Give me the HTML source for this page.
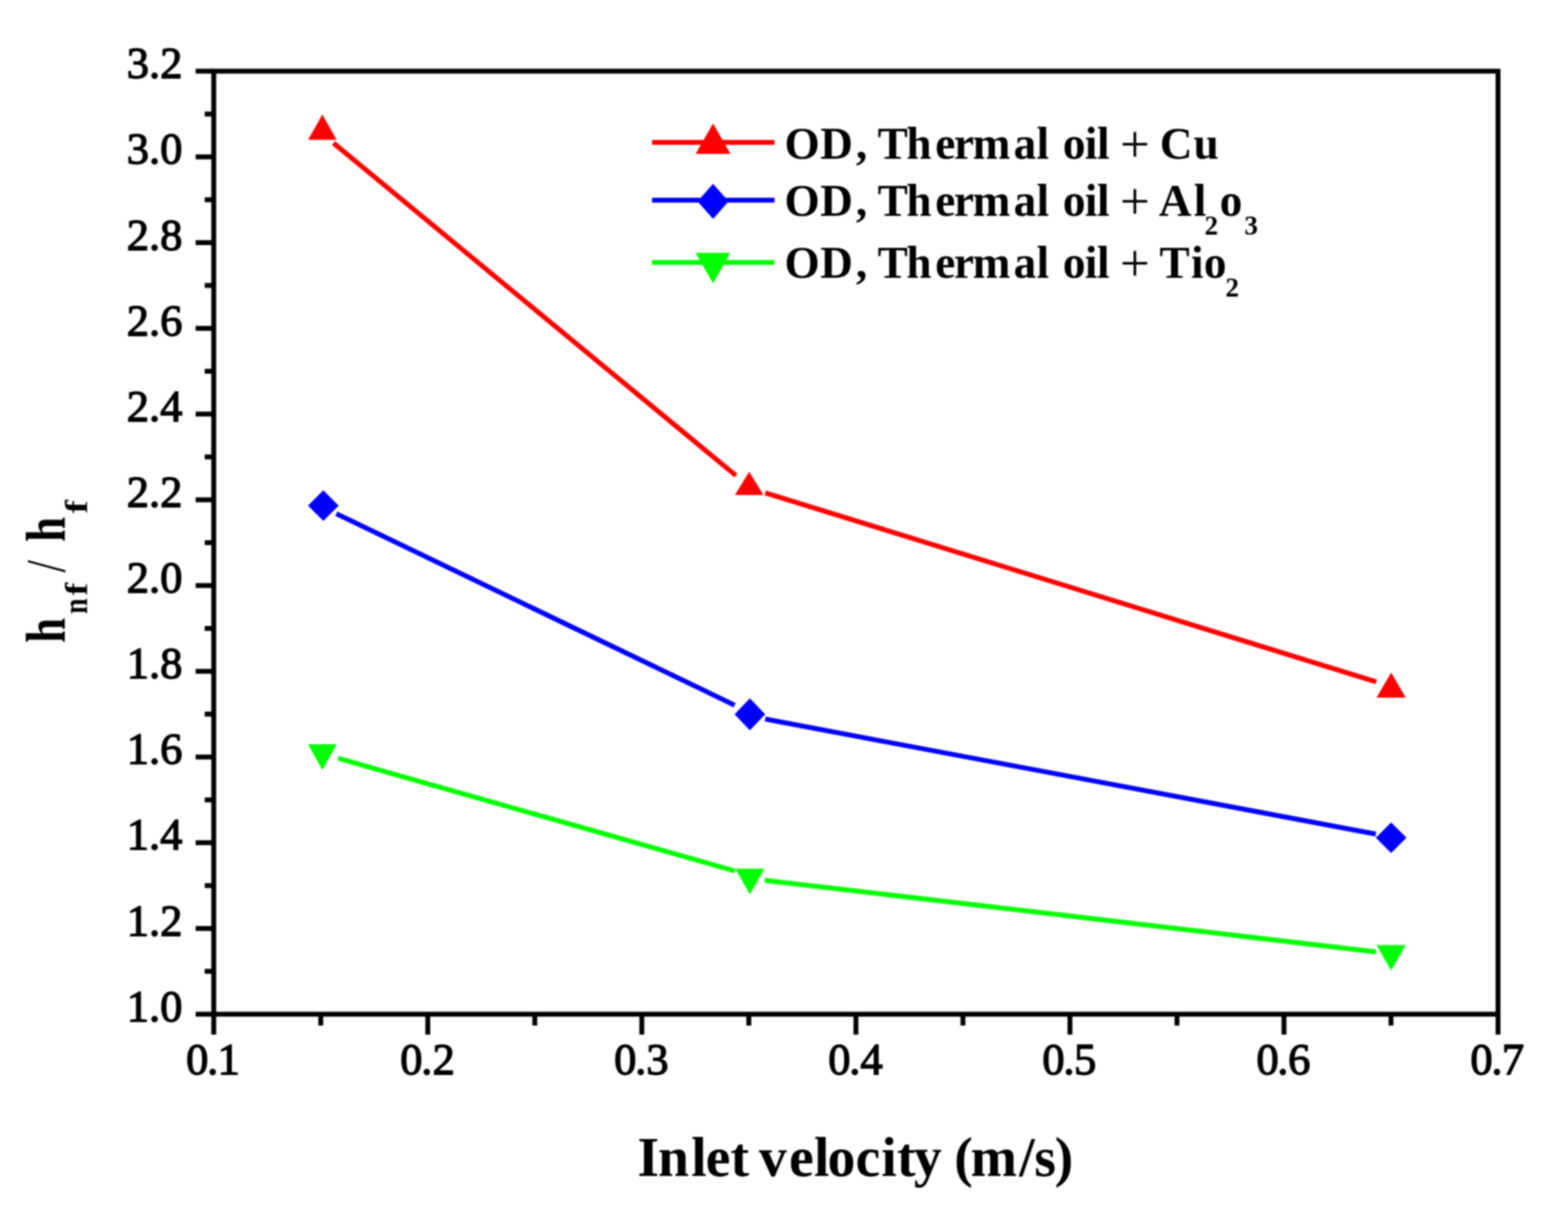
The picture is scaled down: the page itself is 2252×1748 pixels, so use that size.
<!DOCTYPE html>
<html><head><meta charset="utf-8"><style>
html,body{margin:0;padding:0;background:#fff;}
svg{display:block;filter:blur(0.9px);}
.tl{font-family:"Liberation Serif",serif;font-size:64px;fill:#000;stroke:#000;stroke-width:1.8px;}
.lg{font-family:"Liberation Serif",serif;font-weight:bold;font-size:65px;fill:#000;}
.sb{font-size:39px;}
.ti{font-family:"Liberation Serif",serif;font-weight:bold;font-size:80px;fill:#000;}
.ts{font-size:50px;}
.pl{font-weight:normal;font-size:76px;}
</style></head><body>
<svg width="2252" height="1748" viewBox="0 0 2252 1748">
<rect width="2252" height="1748" fill="#fff"/>
<rect x="307" y="102.2" width="1844.5" height="1354.5" fill="none" stroke="#000" stroke-width="7"/>
<line x1="281" y1="1456.7" x2="307" y2="1456.7" stroke="#000" stroke-width="7"/>
<line x1="294" y1="1395.1" x2="307" y2="1395.1" stroke="#000" stroke-width="7"/>
<line x1="281" y1="1333.6" x2="307" y2="1333.6" stroke="#000" stroke-width="7"/>
<line x1="294" y1="1272.0" x2="307" y2="1272.0" stroke="#000" stroke-width="7"/>
<line x1="281" y1="1210.4" x2="307" y2="1210.4" stroke="#000" stroke-width="7"/>
<line x1="294" y1="1148.9" x2="307" y2="1148.9" stroke="#000" stroke-width="7"/>
<line x1="281" y1="1087.3" x2="307" y2="1087.3" stroke="#000" stroke-width="7"/>
<line x1="294" y1="1025.7" x2="307" y2="1025.7" stroke="#000" stroke-width="7"/>
<line x1="281" y1="964.2" x2="307" y2="964.2" stroke="#000" stroke-width="7"/>
<line x1="294" y1="902.6" x2="307" y2="902.6" stroke="#000" stroke-width="7"/>
<line x1="281" y1="841.0" x2="307" y2="841.0" stroke="#000" stroke-width="7"/>
<line x1="294" y1="779.5" x2="307" y2="779.5" stroke="#000" stroke-width="7"/>
<line x1="281" y1="717.9" x2="307" y2="717.9" stroke="#000" stroke-width="7"/>
<line x1="294" y1="656.3" x2="307" y2="656.3" stroke="#000" stroke-width="7"/>
<line x1="281" y1="594.7" x2="307" y2="594.7" stroke="#000" stroke-width="7"/>
<line x1="294" y1="533.2" x2="307" y2="533.2" stroke="#000" stroke-width="7"/>
<line x1="281" y1="471.6" x2="307" y2="471.6" stroke="#000" stroke-width="7"/>
<line x1="294" y1="410.0" x2="307" y2="410.0" stroke="#000" stroke-width="7"/>
<line x1="281" y1="348.5" x2="307" y2="348.5" stroke="#000" stroke-width="7"/>
<line x1="294" y1="286.9" x2="307" y2="286.9" stroke="#000" stroke-width="7"/>
<line x1="281" y1="225.3" x2="307" y2="225.3" stroke="#000" stroke-width="7"/>
<line x1="294" y1="163.8" x2="307" y2="163.8" stroke="#000" stroke-width="7"/>
<line x1="281" y1="102.2" x2="307" y2="102.2" stroke="#000" stroke-width="7"/>
<line x1="307.0" y1="1456.7" x2="307.0" y2="1486" stroke="#000" stroke-width="7"/>
<line x1="460.7" y1="1456.7" x2="460.7" y2="1473" stroke="#000" stroke-width="7"/>
<line x1="614.4" y1="1456.7" x2="614.4" y2="1486" stroke="#000" stroke-width="7"/>
<line x1="768.1" y1="1456.7" x2="768.1" y2="1473" stroke="#000" stroke-width="7"/>
<line x1="921.8" y1="1456.7" x2="921.8" y2="1486" stroke="#000" stroke-width="7"/>
<line x1="1075.5" y1="1456.7" x2="1075.5" y2="1473" stroke="#000" stroke-width="7"/>
<line x1="1229.3" y1="1456.7" x2="1229.3" y2="1486" stroke="#000" stroke-width="7"/>
<line x1="1383.0" y1="1456.7" x2="1383.0" y2="1473" stroke="#000" stroke-width="7"/>
<line x1="1536.7" y1="1456.7" x2="1536.7" y2="1486" stroke="#000" stroke-width="7"/>
<line x1="1690.4" y1="1456.7" x2="1690.4" y2="1473" stroke="#000" stroke-width="7"/>
<line x1="1844.1" y1="1456.7" x2="1844.1" y2="1486" stroke="#000" stroke-width="7"/>
<line x1="1997.8" y1="1456.7" x2="1997.8" y2="1473" stroke="#000" stroke-width="7"/>
<line x1="2151.5" y1="1456.7" x2="2151.5" y2="1486" stroke="#000" stroke-width="7"/>
<text x="262" y="1466.7" class="tl" text-anchor="end">1.0</text>
<text x="262" y="1343.6" class="tl" text-anchor="end">1.2</text>
<text x="262" y="1220.4" class="tl" text-anchor="end">1.4</text>
<text x="262" y="1097.3" class="tl" text-anchor="end">1.6</text>
<text x="262" y="974.2" class="tl" text-anchor="end">1.8</text>
<text x="262" y="851.0" class="tl" text-anchor="end">2.0</text>
<text x="262" y="727.9" class="tl" text-anchor="end">2.2</text>
<text x="262" y="604.7" class="tl" text-anchor="end">2.4</text>
<text x="262" y="481.6" class="tl" text-anchor="end">2.6</text>
<text x="262" y="358.5" class="tl" text-anchor="end">2.8</text>
<text x="262" y="235.3" class="tl" text-anchor="end">3.0</text>
<text x="262" y="112.2" class="tl" text-anchor="end">3.2</text>
<text x="267.3 297.5 312.4" y="1543" class="tl">0.1</text>
<text x="574.7 604.9 621.3" y="1543" class="tl">0.2</text>
<text x="882.1 912.3 928.2" y="1543" class="tl">0.3</text>
<text x="1189.6 1219.8 1235.7" y="1543" class="tl">0.4</text>
<text x="1497.0 1527.2 1542.6" y="1543" class="tl">0.5</text>
<text x="1804.4 1834.6 1850.0" y="1543" class="tl">0.6</text>
<text x="2111.8 2142.0 2156.9" y="1543" class="tl">0.7</text>
<line x1="479" y1="205.5" x2="1057" y2="683.1" stroke="#ff0000" stroke-width="7"/>
<line x1="1099" y1="707.8" x2="1976.6" y2="979.4" stroke="#ff0000" stroke-width="7"/>
<polygon points="463,164.5 483.5,200.7 442.5,200.7" fill="#ff0000"/>
<polygon points="1076,677.5 1096.5,711 1055.5,711" fill="#ff0000"/>
<polygon points="1998,966 2019.0,1002 1977.0,1002" fill="#ff0000"/>
<line x1="483" y1="737.8" x2="1055" y2="1012.8" stroke="#0000ff" stroke-width="7"/>
<line x1="1099" y1="1032.8" x2="1976" y2="1198" stroke="#0000ff" stroke-width="7"/>
<polygon points="464.4,704.3 486.4,726.3 464.4,748.3 442.4,726.3" fill="#0000ff"/>
<polygon points="1077,1003 1099,1026 1077,1049 1055,1026" fill="#0000ff"/>
<polygon points="1998,1181.3 2020,1203.3 1998,1225.3 1976,1203.3" fill="#0000ff"/>
<line x1="485.5" y1="1089" x2="1055.4" y2="1251" stroke="#00ff00" stroke-width="7"/>
<line x1="1098.4" y1="1264.4" x2="1976.3" y2="1367.2" stroke="#00ff00" stroke-width="7"/>
<polygon points="442.5,1069 483.5,1069 463,1106" fill="#00ff00"/>
<polygon points="1056.0,1247.7 1098.0,1247.7 1077,1284.6" fill="#00ff00"/>
<polygon points="1977.0,1357.4 2019.0,1357.4 1998,1394" fill="#00ff00"/>
<line x1="936.5" y1="204.5" x2="1112.4" y2="204.5" stroke="#ff0000" stroke-width="7"/>
<polygon points="1024.1,177.3 1049.1,221.1 999.0999999999999,221.1" fill="#ff0000"/>
<line x1="936.5" y1="287.4" x2="1112.4" y2="287.4" stroke="#0000ff" stroke-width="7"/>
<polygon points="1024.1,264.0 1046.3999999999999,289.2 1024.1,314.4 1001.8,289.2" fill="#0000ff"/>
<line x1="936.5" y1="377" x2="1112.4" y2="377" stroke="#00ff00" stroke-width="7"/>
<polygon points="999.0999999999999,363.2 1049.1,363.2 1024.1,406.9" fill="#00ff00"/>
<text x="1126.85 1178.10 1229.25 1245.00 1260.60 1301.75 1343.20 1369.95 1397.05 1455.85 1488.85 1507.00 1526.50 1558.00 1575.40 1594.00 1608.60 1649.00 1665.80 1714.30" y="227.5" class="lg">OD, Thermal oil <tspan class="pl" dy="4">+</tspan><tspan dy="-4"> </tspan>Cu</text>
<text x="1126.85 1178.10 1229.25 1245.00 1260.60 1301.75 1343.20 1369.95 1397.05 1455.85 1488.85 1507.00 1526.50 1558.00 1575.40 1594.00 1608.60 1649.00 1664.20 1714.55" y="310" class="lg">OD, Thermal oil <tspan class="pl" dy="4">+</tspan><tspan dy="-4"> </tspan>Al<tspan class="sb" x="1730.05" y="337">2</tspan><tspan x="1751.65" y="310">o</tspan><tspan class="sb" x="1787.3" y="337">3</tspan></text>
<text x="1126.85 1178.10 1229.25 1245.00 1260.60 1301.75 1343.20 1369.95 1397.05 1455.85 1488.85 1507.00 1526.50 1558.00 1575.40 1594.00 1608.60 1649.00 1665.35 1710.45 1728.95" y="399" class="lg">OD, Thermal oil <tspan class="pl" dy="4">+</tspan><tspan dy="-4"> </tspan>Tio<tspan class="sb" x="1760.1" y="426.4">2</tspan></text>
<text x="915.60 944.90 992.75 1013.40 1049.20 1075.00 1090.05 1133.35 1169.05 1188.40 1228.70 1265.80 1288.15 1312.45 1352.00 1370.50 1394.05 1463.70 1485.50 1514.85" y="1688.5" class="ti">Inlet velocity (m/s)</text>
<text transform="translate(92.8,1000) rotate(-90) scale(0.8,1)" class="ti"><tspan x="96.06">h</tspan><tspan class="ts" x="147.88" y="31.9">n</tspan></text>
<text transform="translate(124.7,845.8) rotate(-90) scale(1.1,0.92)" class="ti ts" x="-8.5" y="0">f</text>
<text transform="translate(92.8,1000) rotate(-90) scale(0.8,1)" class="ti"><tspan x="222.13" y="0" style="font-weight:normal">/</tspan><tspan x="277.19">h</tspan></text>
<text transform="translate(125.1,727.85) rotate(-90) scale(1.15,0.95)" class="ti ts" x="-8.5" y="0">f</text>
</svg>
</body></html>
